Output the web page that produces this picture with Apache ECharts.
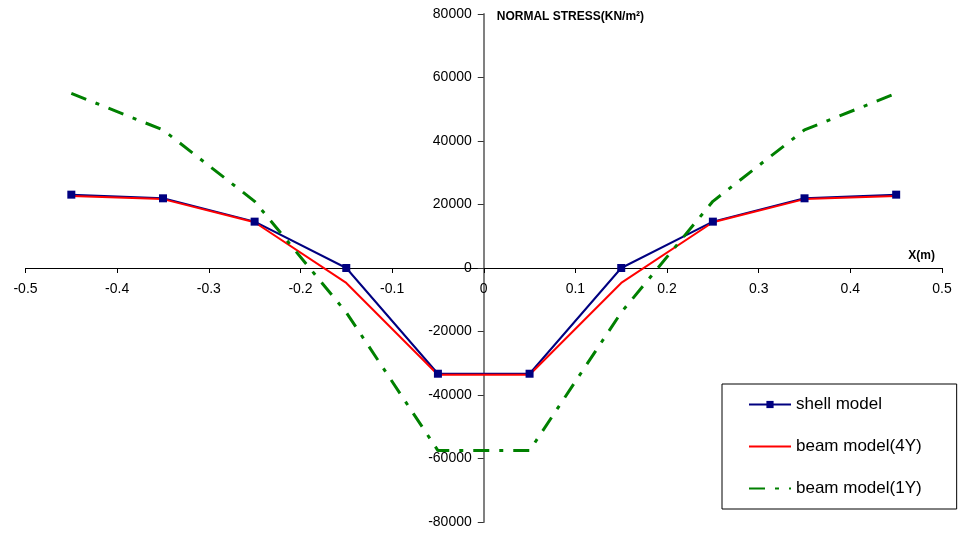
<!DOCTYPE html>
<html>
<head>
<meta charset="utf-8">
<script src="https://cdn.jsdelivr.net/npm/echarts@6/dist/echarts.min.js"></script>
<style>
  html, body { margin: 0; padding: 0; background: #fff; }
  #chart { width: 969px; height: 535px; }
</style>
</head>
<body>
<div id="chart"></div>
<script>
// Positions along the beam (m)
const xPositions = [-0.45, -0.35, -0.25, -0.15, -0.05, 0.05, 0.15, 0.25, 0.35, 0.45];
// Normal stress (KN/m²) for each model
const shellModel = [23100, 21950, 14600, 0, -33300, -33300, 0, 14600, 21950, 23100];
const beamModel4Y = [22700, 21700, 14400, -4700, -33600, -33600, -4700, 14400, 21700, 22700];
const beamModel1Y = [55000, 43500, 21000, -14000, -57500, -57500, -14000, 21000, 43500, 55000];
const seriesNames = ['shell model', 'beam model(4Y)', 'beam model(1Y)'];

const pairs = vals => xPositions.map((x, i) => [x, vals[i]]);
const FONT = 'Liberation Sans, Arial, sans-serif';

// Plot box; the axes cross at the origin, so each axis is shifted onto zero
const W = 969, H = 535;
const G = { left: 25.5, right: 27, top: 14, bottom: 13 };
const X_MIN = -0.5, X_MAX = 0.5, Y_MIN = -80000, Y_MAX = 80000;
const plotW = W - G.left - G.right, plotH = H - G.top - G.bottom;
const yAxisShift = (0 - X_MIN) / (X_MAX - X_MIN) * plotW;
const xAxisShift = (0 - Y_MIN) / (Y_MAX - Y_MIN) * plotH;

const chart = echarts.init(document.getElementById('chart'), null, { renderer: 'canvas' });
chart.setOption({
  animation: false,
  backgroundColor: '#ffffff',
  grid: { left: G.left, right: G.right, top: G.top, bottom: G.bottom, containLabel: false, outerBoundsMode: 'none' },
  xAxis: {
    type: 'value',
    position: 'bottom',
    offset: -xAxisShift,
    min: X_MIN, max: X_MAX, interval: 0.1,
    name: 'X(m)',
    nameLocation: 'end',
    nameGap: -7,
    nameTextStyle: { fontFamily: FONT, fontWeight: 'bold', fontSize: 12, color: '#000', align: 'right', verticalAlign: 'bottom', padding: [0, 0, 6, 0] },
    axisLine: { onZero: false, lineStyle: { color: '#000', width: 1 } },
    axisTick: { show: true, length: 5, lineStyle: { color: '#000' } },
    axisLabel: {
      fontFamily: FONT, fontSize: 14, color: '#000', margin: 14,
      formatter: v => (Math.round(v * 10) / 10).toString()
    },
    splitLine: { show: false }
  },
  yAxis: {
    type: 'value',
    position: 'left',
    offset: -yAxisShift,
    min: Y_MIN, max: Y_MAX, interval: 20000,
    name: 'NORMAL STRESS(KN/m²)',
    nameLocation: 'end',
    nameGap: -3,
    nameTextStyle: { fontFamily: FONT, fontWeight: 'bold', fontSize: 12, color: '#000', align: 'left', verticalAlign: 'middle', padding: [0, 0, 0, 13] },
    axisLine: { onZero: false, lineStyle: { color: '#808080', width: 2 } },
    axisTick: { show: true, length: 6, lineStyle: { color: '#333' } },
    axisLabel: {
      fontFamily: FONT, fontSize: 14, color: '#000', margin: 12,
      formatter: v => String(Math.round(v))
    },
    splitLine: { show: false }
  },
  legend: {
    orient: 'vertical',
    left: 722, top: 384,
    itemWidth: 42, itemHeight: 9, itemGap: 25,
    padding: [12, 35, 12, 26],
    borderColor: '#000', borderWidth: 1,
    backgroundColor: '#fff',
    textStyle: { fontFamily: FONT, fontSize: 17, color: '#000' },
    data: [
      { name: seriesNames[0] },
      { name: seriesNames[1], itemStyle: { opacity: 0 } },
      { name: seriesNames[2], itemStyle: { opacity: 0 } }
    ]
  },
  series: [
    {
      name: seriesNames[0], type: 'line',
      data: pairs(shellModel),
      symbol: 'rect', symbolSize: 8,
      itemStyle: { color: '#000080' },
      lineStyle: { color: '#000080', width: 2 },
      z: 2
    },
    {
      name: seriesNames[1], type: 'line',
      data: pairs(beamModel4Y),
      symbol: 'none',
      itemStyle: { color: '#ff0000' },
      lineStyle: { color: '#ff0000', width: 2 },
      z: 2
    },
    {
      name: seriesNames[2], type: 'line',
      data: pairs(beamModel1Y),
      symbol: 'none',
      itemStyle: { color: '#008000' },
      lineStyle: { color: '#008000', width: 3, type: [16, 10, 4, 10], cap: 'butt' },
      z: 2
    }
  ]
});
</script>
</body>
</html>
